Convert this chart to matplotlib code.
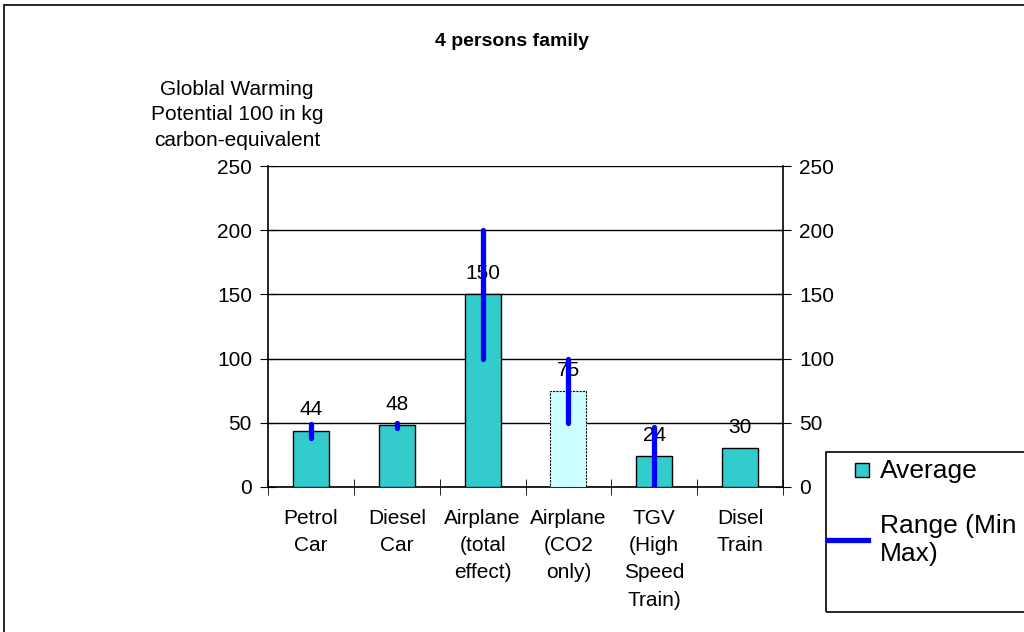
import numpy as np
import matplotlib.pyplot as plt
from matplotlib.patches import Rectangle
from matplotlib.lines import Line2D

plt.rcParams['font.family'] = ['Liberation Sans', 'DejaVu Sans']

# ── DATA ───────────────────────────────────────────────────────
categories = ["Petrol\nCar", "Diesel\nCar", "Airplane\n(total\neffect)",
              "Airplane\n(CO2\nonly)", "TGV\n(High\nSpeed\nTrain)", "Disel\nTrain"]
average = [44, 48, 150, 75, 24, 30]
range_min = [38, 46, 100, 50, 0, 30]
range_max = [49, 50, 200, 100, 47, 30]
yticks = [0, 50, 100, 150, 200, 250]

BAR_COLOR = "#33CCCC"
LIGHT_COLOR = "#CCFFFF"
LINE_COLOR = "#0000FF"
FS = 15

fig = plt.figure(figsize=(10.24, 6.32), dpi=100)
fig.patch.set_facecolor("white")

# outer chart border (runs off the right/bottom edge)
fig.add_artist(Rectangle((4 / 1024, -0.05), 1.1, 1 - 5 / 632 + 0.05,
                         transform=fig.transFigure, fill=False,
                         edgecolor="black", linewidth=1.2))

ax = fig.add_axes([268 / 1024, 1 - 487 / 632, 515 / 1024, 321 / 632])
x = np.arange(len(categories))

colors = [BAR_COLOR] * len(categories)
colors[3] = LIGHT_COLOR
bars = ax.bar(x, average, width=0.42, color=colors, edgecolor="black",
              linewidth=1.0, zorder=3)
bars[3].set_linestyle((0, (2, 1)))
bars[3].set_linewidth(0.8)

for xi, v in zip(x, average):
    ax.annotate(str(v), (xi, v), xytext=(0, 8), textcoords="offset points",
                ha="center", va="bottom", fontsize=FS, zorder=4)

for xi, lo, hi in zip(x, range_min, range_max):
    ax.plot([xi, xi], [lo, hi], color=LINE_COLOR, linewidth=3.8,
            solid_capstyle="round", zorder=5)

ax.set_xlim(-0.5, len(categories) - 0.5)
ax.set_ylim(0, 250)
ax.set_yticks(yticks)
ax.yaxis.grid(True, color="black", linewidth=1.0)
ax.set_axisbelow(True)
ax.tick_params(axis="y", direction="inout", length=11, labelsize=FS,
               left=True, right=True, labelleft=True, labelright=True, pad=6)

ax.set_xticks(x)
ax.set_xticklabels(categories, fontsize=FS, va="top", linespacing=1.54)
ax.set_xticks(np.arange(-0.5, len(categories)), minor=True)
ax.tick_params(axis="x", which="major", length=0, pad=16)
ax.tick_params(axis="x", which="minor", direction="inout", length=12)

for side in ["left", "right", "bottom"]:
    ax.spines[side].set_linewidth(1.2)
ax.spines["top"].set_visible(False)

fig.text(0.5, 1 - 42 / 632, "4 persons family", ha="center", va="center",
         fontsize=14, fontweight="bold")
fig.text(237 / 1024, 1 - 115 / 632,
         "Globlal Warming\nPotential 100 in kg\ncarbon-equivalent",
         ha="center", va="center", fontsize=FS, linespacing=1.42)

# legend box
fig.add_artist(Rectangle((826 / 1024, 1 - 612 / 632), 0.3, 160 / 632,
                         transform=fig.transFigure, fill=False,
                         edgecolor="black", linewidth=1.2))
fig.add_artist(Rectangle((855 / 1024, 1 - 477 / 632), 14 / 1024, 14 / 632,
                         transform=fig.transFigure, facecolor=BAR_COLOR,
                         edgecolor="black", linewidth=1.0))
fig.text(880 / 1024, 1 - 471 / 632, "Average", ha="left", va="center",
         fontsize=19)
fig.add_artist(Line2D([828 / 1024, 868 / 1024], [1 - 540 / 632, 1 - 540 / 632],
                      transform=fig.transFigure, color=LINE_COLOR,
                      linewidth=3.8))
fig.text(880 / 1024, 1 - 540 / 632, "Range (Min\nMax)", ha="left",
         va="center", fontsize=19, linespacing=1.2)

fig.savefig("out.png", dpi=100)
